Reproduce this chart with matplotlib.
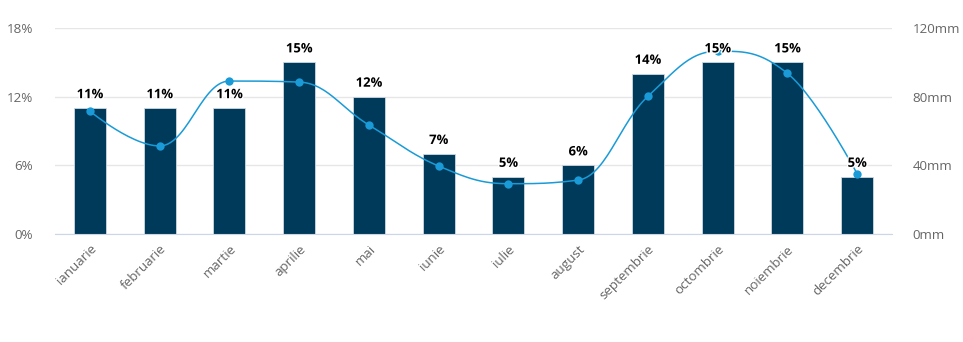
import numpy as np
import matplotlib.pyplot as plt
import matplotlib.patheffects as pe

plt.rcParams['font.family'] = ['Open Sans', 'DejaVu Sans']

# --- Daten ---
months = ['ianuarie', 'februarie', 'martie', 'aprilie', 'mai', 'iunie',
          'iulie', 'august', 'septembrie', 'octombrie', 'noiembrie', 'decembrie']
share_pct = [11, 11, 11, 15, 12, 7, 5, 6, 14, 15, 15, 5]
rain_mm = [71.6, 51.3, 89.1, 88.5, 63.5, 39.6, 29.3, 31.4, 80.2, 106.5, 93.6, 35.1]
left_ticks = [0, 6, 12, 18]
right_ticks = [0, 40, 80, 120]

BAR = '#003a5a'
LINE = '#1a9bd7'
GRID = '#e6e6e6'
TXT = '#666666'

W, H = 963, 342
fig = plt.figure(figsize=(W / 100, H / 100), dpi=100)
x0, x1, y0, y1 = 55, 892, 28, 234
ax = fig.add_axes([x0 / W, 1 - y1 / H, (x1 - x0) / W, (y1 - y0) / H])
ax2 = ax.twinx()

x = np.arange(len(months))
ax.bar(x, share_pct, width=0.46, color=BAR, edgecolor='#d0d8e0', linewidth=0.6, zorder=2)
ax.set_xlim(-0.5, len(months) - 0.5)
ax.set_ylim(0, 18)
ax.set_yticks(left_ticks)
ax.set_yticklabels([f'{t}%' for t in left_ticks])
ax.yaxis.grid(True, color=GRID, linewidth=1)
ax.set_axisbelow(True)
ax.set_xticks(x)
ax.set_xticklabels(months, rotation=45, ha='right', rotation_mode='anchor')


# Highcharts-artiger Spline in Pixelkoordinaten
def spline(xs, ys, sx, sy, n=30):
    px = np.array(xs, float) * sx
    py = np.array(ys, float) * sy
    k = len(px)
    rc = [None] * k
    lc = [None] * k
    s, d = 1.5, 2.5
    for i in range(1, k - 1):
        lx = (s * px[i] + px[i - 1]) / d
        ly = (s * py[i] + py[i - 1]) / d
        rx = (s * px[i] + px[i + 1]) / d
        ry = (s * py[i] + py[i + 1]) / d
        corr = (ry - ly) * (rx - px[i]) / (rx - lx) + py[i] - ry
        ly += corr
        ry += corr
        if ly > py[i - 1] and ly > py[i]:
            ly = max(py[i - 1], py[i]); ry = 2 * py[i] - ly
        elif ly < py[i - 1] and ly < py[i]:
            ly = min(py[i - 1], py[i]); ry = 2 * py[i] - ly
        if ry > py[i + 1] and ry > py[i]:
            ry = max(py[i + 1], py[i]); ly = 2 * py[i] - ry
        elif ry < py[i + 1] and ry < py[i]:
            ry = min(py[i + 1], py[i]); ly = 2 * py[i] - ry
        lc[i] = (lx, ly)
        rc[i] = (rx, ry)
    outx, outy = [], []
    t = np.linspace(0, 1, n)
    for i in range(1, k):
        p0 = np.array([px[i - 1], py[i - 1]])
        p1 = np.array(rc[i - 1]) if rc[i - 1] else p0
        p3 = np.array([px[i], py[i]])
        p2 = np.array(lc[i]) if lc[i] else p3
        b = ((1 - t) ** 3)[:, None] * p0 + (3 * (1 - t) ** 2 * t)[:, None] * p1 \
            + (3 * (1 - t) * t ** 2)[:, None] * p2 + (t ** 3)[:, None] * p3
        outx.extend(b[:, 0]); outy.extend(b[:, 1])
    return np.array(outx) / sx, np.array(outy) / sy


sx = (x1 - x0) / 12
sy = (y1 - y0) / 120
cx, cy = spline(x, rain_mm, sx, sy)
ax2.plot(cx, cy, color=LINE, linewidth=1.1, zorder=3)
ax2.plot(x, rain_mm, 'o', color=LINE, markersize=6, markeredgewidth=0, zorder=4)
ax2.set_ylim(0, 120)
ax2.set_yticks(right_ticks)
ax2.set_yticklabels([f'{t}mm' for t in right_ticks])

# Beschriftungen ueber Balken (auf ax2, damit sie ueber der Linie liegen)
for xi, v in zip(x, share_pct):
    ax2.annotate(f'{v}%', (xi, v), xycoords=ax.transData, textcoords='offset points',
                 xytext=(0, 5), ha='center', va='bottom', fontsize=9.4,
                 fontweight='bold', color='black', zorder=6,
                 path_effects=[pe.withStroke(linewidth=2, foreground='white')])

for a in (ax, ax2):
    for sp in a.spines.values():
        sp.set_visible(False)
    a.tick_params(length=0, colors=TXT, labelsize=9.6)
ax.spines['bottom'].set_visible(True)
ax.spines['bottom'].set_color('#ccd6eb')
ax.tick_params(axis='y', pad=16)
ax2.tick_params(axis='y', pad=15)
ax.tick_params(axis='x', pad=6)

fig.savefig('out.png', dpi=100)
